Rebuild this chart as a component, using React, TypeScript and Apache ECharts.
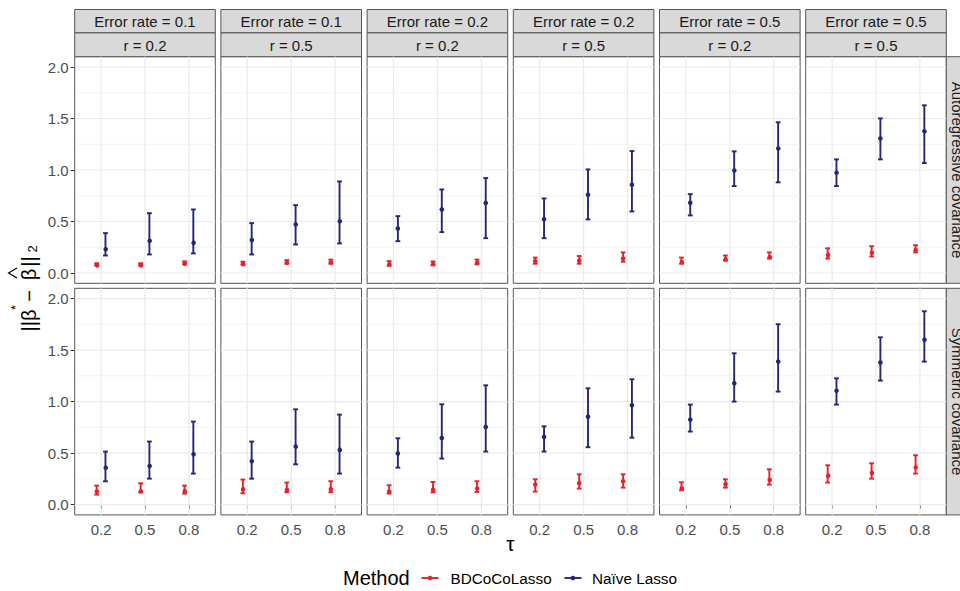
import React, { useEffect, useRef } from 'react';
import * as echarts from 'echarts';

// ---------- data ----------
const tauValues = [0.2, 0.5, 0.8];
const tauLabels = ['0.2', '0.5', '0.8'];
const errorRateLabels = ['Error rate = 0.1', 'Error rate = 0.1', 'Error rate = 0.2', 'Error rate = 0.2', 'Error rate = 0.5', 'Error rate = 0.5'];
const rLabels = ['r = 0.2', 'r = 0.5', 'r = 0.2', 'r = 0.5', 'r = 0.2', 'r = 0.5'];
const covarianceLabels = ['Autoregressive covariance', 'Symmetric covariance'];
const yTickValues = [0, 0.5, 1, 1.5, 2];
const yMinorValues = [0.25, 0.75, 1.25, 1.75];
const methodNames = ['BDCoCoLasso', 'Naïve Lasso'];
const methodColors = ['#E8202A', '#25267A'];

// Autoregressive covariance (top row): per panel, values at tau 0.2, 0.5, 0.8
const bdAutoMean = [[0.085, 0.085, 0.099], [0.095, 0.109, 0.11], [0.095, 0.095, 0.108], [0.115, 0.12, 0.141], [0.118, 0.141, 0.167], [0.187, 0.209, 0.231]];
const bdAutoLow = [[0.075, 0.075, 0.085], [0.083, 0.09, 0.09], [0.07, 0.075, 0.085], [0.09, 0.09, 0.11], [0.09, 0.12, 0.14], [0.14, 0.16, 0.2]];
const bdAutoHigh = [[0.095, 0.095, 0.113], [0.11, 0.125, 0.13], [0.115, 0.112, 0.13], [0.15, 0.165, 0.2], [0.15, 0.17, 0.2], [0.24, 0.26, 0.27]];
const naiveAutoMean = [[0.241, 0.323, 0.303], [0.329, 0.478, 0.513], [0.432, 0.617, 0.679], [0.523, 0.76, 0.857], [0.682, 1.003, 1.217], [0.98, 1.307, 1.382]];
const naiveAutoLow = [[0.17, 0.18, 0.19], [0.18, 0.277, 0.287], [0.309, 0.397, 0.338], [0.338, 0.52, 0.598], [0.559, 0.844, 0.88], [0.844, 1.103, 1.067]];
const naiveAutoHigh = [[0.387, 0.581, 0.617], [0.484, 0.659, 0.889], [0.552, 0.811, 0.922], [0.724, 1.006, 1.184], [0.766, 1.181, 1.463], [1.103, 1.501, 1.628]];

// Symmetric covariance (bottom row)
const bdSymMean = [[0.136, 0.139, 0.139], [0.158, 0.152, 0.158], [0.136, 0.152, 0.168], [0.194, 0.207, 0.227], [0.171, 0.207, 0.252], [0.294, 0.32, 0.369]];
const bdSymLow = [[0.097, 0.12, 0.107], [0.11, 0.12, 0.12], [0.107, 0.12, 0.123], [0.126, 0.155, 0.165], [0.139, 0.165, 0.194], [0.214, 0.252, 0.301]];
const bdSymHigh = [[0.184, 0.207, 0.184], [0.243, 0.214, 0.227], [0.188, 0.22, 0.227], [0.246, 0.294, 0.294], [0.217, 0.246, 0.343], [0.382, 0.401, 0.479]];
const naiveSymMean = [[0.369, 0.385, 0.498], [0.43, 0.57, 0.541], [0.495, 0.647, 0.754], [0.657, 0.854, 0.964], [0.825, 1.184, 1.395], [1.113, 1.379, 1.609]];
const naiveSymLow = [[0.226, 0.252, 0.301], [0.252, 0.391, 0.301], [0.359, 0.447, 0.515], [0.515, 0.557, 0.65], [0.709, 1.0, 1.097], [0.971, 1.204, 1.388]];
const naiveSymHigh = [[0.515, 0.612, 0.806], [0.612, 0.925, 0.874], [0.644, 0.974, 1.158], [0.76, 1.129, 1.217], [0.971, 1.469, 1.751], [1.226, 1.624, 1.877]];

// ---------- layout ----------
const FONT = '"Liberation Sans", Arial, Helvetica, sans-serif';
const PANEL_LEFT0 = 74.7;
const PANEL_STEP = 146.2;
const PANEL_W = 140.6;
const ROW_TOPS = [56.7, 288.3];
const PANEL_H = 226.6;
const DODGE = 0.03;
const X_MIN = 0.02;
const X_MAX = 0.98;
const Y_MIN = -0.1;
const Y_MAX = 2.1;
const BORDER = '#555555';
const GRID_COLOR = '#EBEBEB';
const STRIP_FILL = '#D9D9D9';

const rowData = [
  { mean: [bdAutoMean, naiveAutoMean], low: [bdAutoLow, naiveAutoLow], high: [bdAutoHigh, naiveAutoHigh] },
  { mean: [bdSymMean, naiveSymMean], low: [bdSymLow, naiveSymLow], high: [bdSymHigh, naiveSymHigh] },
];

function rotText(text: string, x: number, y: number, size: number) {
  return {
    type: 'text', x, y, rotation: Math.PI / 2,
    style: { text, fill: '#000000', fontSize: size, fontFamily: FONT, align: 'center', verticalAlign: 'middle' },
  };
}

function buildOption() {
  const grids: any[] = [];
  const xAxes: any[] = [];
  const yAxes: any[] = [];
  const series: any[] = [];
  const graphics: any[] = [];

  for (let row = 0; row < 2; row++) {
    for (let col = 0; col < 6; col++) {
      const idx = row * 6 + col;
      const left = PANEL_LEFT0 + col * PANEL_STEP;
      const top = ROW_TOPS[row];
      grids.push({
        left, top, width: PANEL_W, height: PANEL_H,
        show: true, borderColor: BORDER, borderWidth: 1, backgroundColor: '#ffffff',
        containLabel: false,
      });
      xAxes.push({
        type: 'value', gridIndex: idx, min: X_MIN, max: X_MAX,
        axisLine: { show: false },
        axisTick: { show: row === 1, customValues: tauValues, length: 4, lineStyle: { color: '#333333', width: 1 } },
        axisLabel: {
          show: row === 1, customValues: tauValues, margin: 7,
          formatter: (v: number) => tauLabels[tauValues.findIndex((t) => Math.abs(t - v) < 1e-6)] ?? '',
          color: '#4D4D4D', fontSize: 15, fontFamily: FONT,
        },
        splitLine: { show: false },
      });
      yAxes.push({
        type: 'value', gridIndex: idx, min: Y_MIN, max: Y_MAX,
        axisLine: { show: false },
        axisTick: { show: col === 0, customValues: yTickValues, length: 4, lineStyle: { color: '#333333', width: 1 } },
        axisLabel: {
          show: col === 0, customValues: yTickValues, margin: 6,
          formatter: (v: number) => v.toFixed(1),
          color: '#4D4D4D', fontSize: 15, fontFamily: FONT,
        },
        splitLine: { show: false },
      });

      // grid lines drawn through the axes' scales
      series.push({
        type: 'custom', xAxisIndex: idx, yAxisIndex: idx, silent: true, z: 1,
        data: [[0.5, 1]],
        renderItem: (params: any, api: any) => {
          const children: any[] = [];
          yMinorValues.forEach((v) => {
            const a = api.coord([X_MIN, v]);
            const b = api.coord([X_MAX, v]);
            children.push({ type: 'line', shape: { x1: a[0], y1: a[1], x2: b[0], y2: b[1] }, style: { stroke: GRID_COLOR, lineWidth: 0.6 } });
          });
          yTickValues.forEach((v) => {
            const a = api.coord([X_MIN, v]);
            const b = api.coord([X_MAX, v]);
            children.push({ type: 'line', shape: { x1: a[0], y1: a[1], x2: b[0], y2: b[1] }, style: { stroke: GRID_COLOR, lineWidth: 1.2 } });
          });
          tauValues.forEach((t) => {
            const a = api.coord([t, Y_MIN]);
            const b = api.coord([t, Y_MAX]);
            children.push({ type: 'line', shape: { x1: a[0], y1: a[1], x2: b[0], y2: b[1] }, style: { stroke: GRID_COLOR, lineWidth: 1.2 } });
          });
          return { type: 'group', children };
        },
      });

      // error bars + points for each method
      for (let m = 0; m < 2; m++) {
        const rd = rowData[row];
        const data = tauValues.map((t, k) => [
          t + (m === 0 ? -DODGE : DODGE),
          rd.mean[m][col][k],
          rd.low[m][col][k],
          rd.high[m][col][k],
        ]);
        const color = methodColors[m];
        series.push({
          type: 'custom', name: methodNames[m], xAxisIndex: idx, yAxisIndex: idx, z: 3,
          data,
          renderItem: (params: any, api: any) => {
            const x = api.value(0);
            const pM = api.coord([x, api.value(1)]);
            const pLo = api.coord([x, api.value(2)]);
            const pHi = api.coord([x, api.value(3)]);
            const hw = 2.4;
            const st = { stroke: color, lineWidth: 1.9 };
            return {
              type: 'group',
              children: [
                { type: 'line', shape: { x1: pLo[0], y1: pLo[1], x2: pHi[0], y2: pHi[1] }, style: st },
                { type: 'line', shape: { x1: pLo[0] - hw, y1: pLo[1], x2: pLo[0] + hw, y2: pLo[1] }, style: st },
                { type: 'line', shape: { x1: pHi[0] - hw, y1: pHi[1], x2: pHi[0] + hw, y2: pHi[1] }, style: st },
                { type: 'circle', shape: { cx: pM[0], cy: pM[1], r: 2.3 }, style: { fill: color } },
              ],
            };
          },
        });
      }
    }
  }

  // top strips
  for (let col = 0; col < 6; col++) {
    const left = PANEL_LEFT0 + col * PANEL_STEP;
    graphics.push({
      type: 'rect', shape: { x: left, y: 9.5, width: PANEL_W, height: 23.4 },
      style: { fill: STRIP_FILL, stroke: BORDER, lineWidth: 1 },
    });
    graphics.push({
      type: 'rect', shape: { x: left, y: 32.9, width: PANEL_W, height: 23.8 },
      style: { fill: STRIP_FILL, stroke: BORDER, lineWidth: 1 },
    });
    graphics.push({
      type: 'text', x: left + PANEL_W / 2, y: 21.3,
      style: { text: errorRateLabels[col], fill: '#1A1A1A', fontSize: 15, fontFamily: FONT, align: 'center', verticalAlign: 'middle' },
    });
    graphics.push({
      type: 'text', x: left + PANEL_W / 2, y: 45,
      style: { text: rLabels[col], fill: '#1A1A1A', fontSize: 15, fontFamily: FONT, align: 'center', verticalAlign: 'middle' },
    });
  }

  // right strips (cut by the right edge, as in the original figure)
  const stripX = PANEL_LEFT0 + 5 * PANEL_STEP + PANEL_W;
  for (let row = 0; row < 2; row++) {
    graphics.push({
      type: 'rect', shape: { x: stripX, y: ROW_TOPS[row], width: 30, height: PANEL_H },
      style: { fill: STRIP_FILL, stroke: BORDER, lineWidth: 1 },
    });
    graphics.push({
      type: 'text', x: stripX + 11, y: ROW_TOPS[row] + PANEL_H / 2, rotation: -Math.PI / 2,
      style: { text: covarianceLabels[row], fill: '#1A1A1A', fontSize: 15, fontFamily: FONT, align: 'center', verticalAlign: 'middle' },
    });
  }

  // x axis title
  const panelsCenterX = PANEL_LEFT0 + (5 * PANEL_STEP + PANEL_W) / 2;
  graphics.push({
    type: 'text', x: panelsCenterX, y: 543,
    style: { text: 'τ', fill: '#000000', fontSize: 21, fontFamily: FONT, align: 'center', verticalAlign: 'middle' },
  });

  // y axis title: ||β* − β̂||₂ (read bottom to top)
  graphics.push(rotText('||β', 29, 320.5, 20));
  graphics.push(rotText('*', 15.5, 307.5, 13));
  graphics.push(rotText('−', 29, 296, 20));
  graphics.push(rotText('β', 29, 274.5, 20));
  graphics.push({
    type: 'polyline',
    shape: { points: [[17, 268], [8.5, 273], [17, 278]] },
    style: { stroke: '#000000', lineWidth: 1.2, fill: null },
  });
  graphics.push(rotText('||', 29, 261.5, 20));
  graphics.push(rotText('2', 32, 249, 13));

  // legend
  const legendY = 578;
  graphics.push({
    type: 'text', x: 343, y: legendY,
    style: { text: 'Method', fill: '#000000', fontSize: 20, fontFamily: FONT, align: 'left', verticalAlign: 'middle' },
  });
  const keyXs = [421.5, 564.5];
  const labelXs = [450.5, 592];
  for (let m = 0; m < 2; m++) {
    graphics.push({
      type: 'line', shape: { x1: keyXs[m], y1: legendY, x2: keyXs[m] + 17, y2: legendY },
      style: { stroke: methodColors[m], lineWidth: 1.9 },
    });
    graphics.push({
      type: 'circle', shape: { cx: keyXs[m] + 8.5, cy: legendY, r: 2.3 },
      style: { fill: methodColors[m] },
    });
    graphics.push({
      type: 'text', x: labelXs[m], y: legendY,
      style: { text: methodNames[m], fill: '#000000', fontSize: 15.3, fontFamily: FONT, align: 'left', verticalAlign: 'middle' },
    });
  }

  return {
    animation: false,
    backgroundColor: '#ffffff',
    grid: grids,
    xAxis: xAxes,
    yAxis: yAxes,
    series,
    graphic: graphics,
  };
}

export default function App() {
  const ref = useRef<HTMLDivElement>(null);
  useEffect(() => {
    if (!ref.current) return;
    const chart = echarts.init(ref.current, undefined, { renderer: 'svg' });
    chart.setOption(buildOption() as any);
    return () => chart.dispose();
  }, []);
  return (
    <div
      ref={ref}
      style={{ position: 'fixed', left: 0, top: 0, width: 960, height: 591, background: '#ffffff' }}
    />
  );
}
